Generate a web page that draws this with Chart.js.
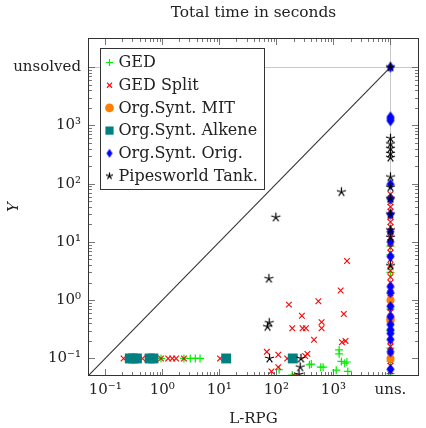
<!DOCTYPE html>
<html><head><meta charset="utf-8">
<script src="https://cdn.jsdelivr.net/npm/chart.js@4/dist/chart.umd.min.js"></script>
<style>html,body{margin:0;padding:0;background:#fff}#wrap{width:426px;height:428px}</style>
</head><body><div id="wrap"><canvas id="c" width="426" height="428"></canvas></div>
<script>
// ---------- texts ----------
const chartTitle = 'Total time in seconds';
const xTitle = 'L-RPG';
const yTitle = 'Y';
const xUnsolvedLabel = 'uns.';
const yUnsolvedLabel = 'unsolved';
const seriesNames = ['GED', 'GED Split', 'Org.Synt. MIT', 'Org.Synt. Alkene', 'Org.Synt. Orig.', 'Pipesworld Tank.'];
const UNS = 10000; // value used for "unsolved" / "uns."

// ---------- data: [L-RPG time, Y time] ----------
const gedPts = [
  [0.95, 0.1], [2.4, 0.1], [3.1, 0.1], [3.8, 0.1], [4.6, 0.1],
  [112, 0.064], [190, 0.052], [380, 0.078], [410, 0.08], [600, 0.071], [660, 0.071],
  [1120, 0.063], [1260, 0.14], [1260, 0.12], [1380, 0.089], [1580, 0.083], [1720, 0.087], [1790, 0.06],
  [UNS, 8.5], [UNS, 6], [UNS, 3], [UNS, 1.3], [UNS, 0.7], [UNS, 0.3], [UNS, 0.15], [UNS, 0.09], [UNS, 0.055]
];
const gedSplitPts = [
  [0.21, 0.1], [0.45, 0.1], [0.95, 0.1], [1.27, 0.1], [1.5, 0.1], [1.75, 0.1], [2.4, 0.1], [10.3, 0.1],
  [68, 0.13], [82, 0.06], [108, 0.116], [108, 0.071], [155, 0.1], [166, 0.84], [190, 0.33], [210, 0.05],
  [280, 0.54], [288, 0.33], [320, 0.11], [330, 0.33], [350, 0.12], [457, 0.21], [545, 0.96],
  [620, 0.42], [620, 0.33], [1340, 1.47], [1410, 0.19], [1520, 0.58], [1630, 0.2], [1730, 4.7],
  [UNS, 66], [UNS, 55], [UNS, 48], [UNS, 40], [UNS, 33], [UNS, 27], [UNS, 22], [UNS, 18], [UNS, 15],
  [UNS, 12], [UNS, 10], [UNS, 8], [UNS, 6.5], [UNS, 5], [UNS, 4], [UNS, 3.2], [UNS, 2.5], [UNS, 2],
  [UNS, 1.6], [UNS, 1.3], [UNS, 1.1], [UNS, 0.9], [UNS, 0.75], [UNS, 0.62], [UNS, 0.5], [UNS, 0.42],
  [UNS, 0.35], [UNS, 0.29], [UNS, 0.24], [UNS, 0.2], [UNS, 0.16], [UNS, 0.13], [UNS, 0.11], [UNS, 0.09],
  [UNS, 0.075], [UNS, 0.06]
];
const mitPts = [
  [UNS, 1.0], [UNS, 0.48], [UNS, 0.46], [UNS, 0.44], [UNS, 0.1]
];
const alkenePts = [
  [0.27, 0.1], [0.31, 0.1], [0.36, 0.1], [0.6, 0.1], [0.7, 0.1], [13.2, 0.1], [194, 0.1]
];
const origPts = [
  [UNS, UNS], [UNS, 1400], [UNS, 1300], [UNS, 1200], [UNS, 98], [UNS, 55], [UNS, 30], [UNS, 15], [UNS, 10],
  [UNS, 5.6], [UNS, 1.7], [UNS, 1.35], [UNS, 0.78], [UNS, 0.52], [UNS, 0.38], [UNS, 0.31], [UNS, 0.27],
  [UNS, 0.21], [UNS, 0.13], [UNS, 0.065]
];
const pipesPts = [
  [70, 0.35], [74, 2.34], [75, 0.41], [76, 0.1], [98, 26.4], [250, 0.053], [262, 0.071], [270, 0.1], [1380, 72],
  [UNS, UNS], [UNS, 600], [UNS, 480], [UNS, 400], [UNS, 330], [UNS, 280], [UNS, 130], [UNS, 87], [UNS, 55],
  [UNS, 30], [UNS, 16], [UNS, 12], [UNS, 3.9]
];
const diagonal = [[0.05, 0.05], [UNS, UNS]];
const axisMin = 0.05;
const axisMax = Math.pow(10, 4.5);

// ---------- styling helpers ----------
const FONT = "'DejaVu Serif', serif";
Chart.defaults.font.family = FONT;
Chart.defaults.color = '#222';

function makeStar(r, color) {
  const s = Math.ceil(2 * r + 3), c = document.createElement('canvas');
  c.width = s; c.height = s;
  const g = c.getContext('2d');
  g.strokeStyle = color; g.lineWidth = 1.2; g.beginPath();
  for (let i = 0; i < 5; i++) {
    const a = -Math.PI / 2 + i * 2 * Math.PI / 5;
    g.moveTo(s / 2, s / 2); g.lineTo(s / 2 + r * Math.cos(a), s / 2 + r * Math.sin(a));
  }
  g.stroke();
  return c;
}
function makeDiamond(w, h, color) {
  const c = document.createElement('canvas');
  c.width = w + 2; c.height = h + 2;
  const g = c.getContext('2d');
  const cx = c.width / 2, cy = c.height / 2;
  g.fillStyle = color; g.beginPath();
  g.moveTo(cx, 1); g.lineTo(w + 1, cy); g.lineTo(cx, h + 1); g.lineTo(1, cy); g.closePath(); g.fill();
  return c;
}
const starImg = makeStar(4.8, '#000');
const diamondImg = makeDiamond(8, 11, '#0000ff');
const starLegend = makeStar(3.6, '#000');
const diamondLegend = makeDiamond(6, 9, '#0000ff');

const toXY = pts => pts.map(([x, y]) => ({ x, y }));
const sup = { '-': '\u207B', '0': '\u2070', '1': '\u00B9', '2': '\u00B2', '3': '\u00B3' };
function powLabel(v, unsText) {
  const l = Math.log10(v), r = Math.round(l);
  if (Math.abs(l - r) > 1e-7 || r < -1 || r > 4) return '';
  if (r === 4) return unsText;
  return '10' + String(r).split('').map(ch => sup[ch]).join('');
}

const series = [
  { pts: gedPts, style: 'cross', r: 4, color: '#00ee00', bw: 1.2, order: 6, lstyle: 'cross', lr: 3.6 },
  { pts: gedSplitPts, style: 'crossRot', r: 4, color: '#ff0000', bw: 1.1, order: 5, lstyle: 'crossRot', lr: 3.6 },
  { pts: mitPts, style: 'circle', r: 4, color: '#ff7f00', bw: 0, order: 4, lstyle: 'circle', lr: 4.4 },
  { pts: alkenePts, style: 'rect', r: 7, color: '#008080', bw: 0, order: 3, lstyle: 'rect', lr: 5.8 },
  { pts: origPts, style: diamondImg, r: 5, color: '#0000ff', bw: 0, order: 2, lstyle: diamondLegend, lr: 4 },
  { pts: pipesPts, style: starImg, r: 5, color: '#000', bw: 1, order: 1, lstyle: starLegend, lr: 4 }
];

const datasets = series.map((s, i) => ({
  type: 'scatter', label: seriesNames[i], data: toXY(s.pts),
  pointStyle: s.style, pointRadius: s.r, pointHoverRadius: s.r,
  backgroundColor: s.color, borderColor: s.color, pointBorderWidth: s.bw, order: s.order
}));
datasets.push({
  type: 'line', label: 'diag', data: toXY(diagonal), borderColor: '#333', borderWidth: 1.1,
  pointRadius: 0, showLine: true, fill: false, order: 10
});

function tickValues() {
  const out = [];
  for (let e = -1; e <= 3; e++) for (let m = 1; m <= 9; m++) out.push({ v: m * Math.pow(10, e), major: m === 1 });
  out.push({ v: UNS, major: true });
  return out;
}

const ticksPlugin = {
  id: 'insideTicks',
  beforeDatasetsDraw(chart) {
    const { ctx, chartArea: a, scales: { x, y } } = chart;
    ctx.save(); ctx.strokeStyle = '#555'; ctx.lineWidth = 0.8; ctx.beginPath();
    for (const t of tickValues()) {
      const len = t.major ? 7 : 4;
      const px = Math.round(x.getPixelForValue(t.v)) + 0.5;
      ctx.moveTo(px, a.bottom); ctx.lineTo(px, a.bottom - len);
      ctx.moveTo(px, a.top); ctx.lineTo(px, a.top + len);
      const py = Math.round(y.getPixelForValue(t.v)) + 0.5;
      ctx.moveTo(a.left, py); ctx.lineTo(a.left + len, py);
      ctx.moveTo(a.right, py); ctx.lineTo(a.right - len, py);
    }
    ctx.stroke(); ctx.restore();
  },
  afterDatasetsDraw(chart) {
    const { ctx, chartArea: a } = chart;
    ctx.save(); ctx.strokeStyle = '#333'; ctx.lineWidth = 1;
    ctx.strokeRect(Math.round(a.left) + 0.5, Math.round(a.top) + 0.5, Math.round(a.width) - 1, Math.round(a.height) - 1);
    ctx.restore();
  }
};

const titleLegendPlugin = {
  id: 'titleAndLegend',
  afterDraw(chart) {
    const { ctx, chartArea: a } = chart;
    ctx.save();
    // title centred over the plot area
    ctx.font = '15.4px ' + FONT; ctx.fillStyle = '#222'; ctx.textAlign = 'center'; ctx.textBaseline = 'middle';
    ctx.fillText(chartTitle, (a.left + a.right) / 2, 13);
    // legend box
    const box = { l: 100, t: 48, r: 265, b: 190 };
    ctx.fillStyle = '#fff'; ctx.fillRect(box.l, box.t, box.r - box.l, box.b - box.t);
    ctx.strokeStyle = '#333'; ctx.lineWidth = 1;
    ctx.strokeRect(box.l + 0.5, box.t + 0.5, box.r - box.l - 1, box.b - box.t - 1);
    ctx.font = '16px ' + FONT; ctx.textAlign = 'left'; ctx.textBaseline = 'middle'; ctx.fillStyle = '#222';
    series.forEach((s, i) => {
      const cy = 62.5 + i * 22.7, cx = 109.5;
      ctx.save();
      ctx.fillStyle = s.color; ctx.strokeStyle = s.color; ctx.lineWidth = s.bw || 1;
      Chart.helpers.drawPoint(ctx, { pointStyle: s.lstyle, radius: s.lr, borderWidth: s.bw, rotation: 0 }, cx, cy);
      ctx.restore();
      ctx.fillText(seriesNames[i], 118.5, cy + 0.5);
    });
    ctx.restore();
  }
};

const gridColor = c => (c.tick && Math.abs(c.tick.value - UNS) < 1e-6) ? '#c8c8c8' : 'rgba(0,0,0,0)';

new Chart(document.getElementById('c'), {
  type: 'scatter',
  data: { datasets },
  plugins: [ticksPlugin, titleLegendPlugin],
  options: {
    responsive: false, animation: false, devicePixelRatio: 1,
    layout: { padding: { left: 0, right: 2, top: 38, bottom: 0 } },
    plugins: {
      legend: { display: false }, tooltip: { enabled: false }, title: { display: false }
    },
    scales: {
      x: {
        type: 'logarithmic', min: axisMin, max: axisMax,
        border: { display: false },
        grid: { drawTicks: false, color: gridColor, lineWidth: 1 },
        ticks: { autoSkip: false, maxRotation: 0, padding: 5, color: '#222', font: { size: 15 }, callback: v => powLabel(v, xUnsolvedLabel) },
        title: { display: true, text: xTitle, color: '#222', font: { size: 15 }, padding: { top: 0, bottom: 0 } },
        afterFit: s => { s.height = 52; }
      },
      y: {
        type: 'logarithmic', min: axisMin, max: axisMax,
        border: { display: false },
        grid: { drawTicks: false, color: gridColor, lineWidth: 1 },
        ticks: { autoSkip: false, padding: 7, color: '#222', font: { size: 15 }, callback: v => powLabel(v, yUnsolvedLabel) },
        title: { display: true, text: yTitle, color: '#222', font: { size: 15, style: 'italic' }, padding: { top: 5, bottom: 0 } },
        afterFit: s => { s.width = 88; }
      }
    }
  }
});
</script>
</body></html>
